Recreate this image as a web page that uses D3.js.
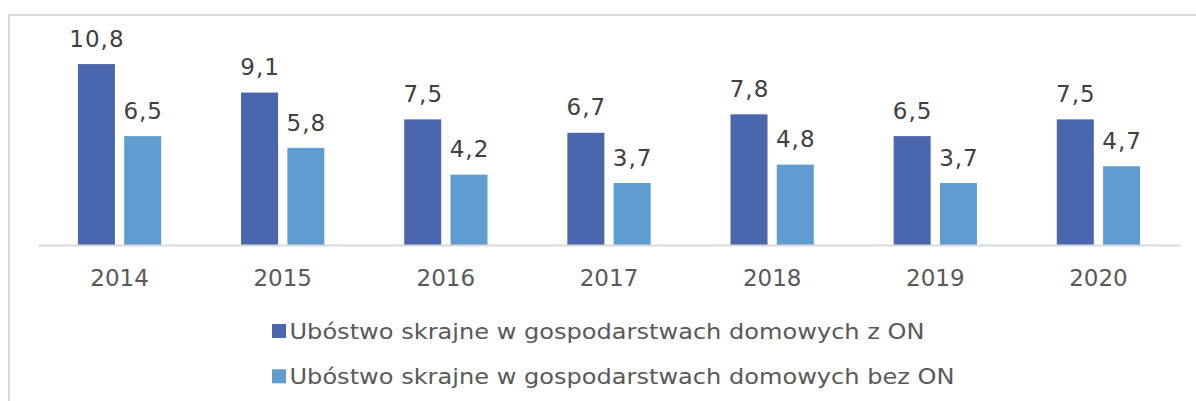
<!DOCTYPE html>
<html><head><meta charset="utf-8">
<script src="https://cdn.jsdelivr.net/npm/d3@7"></script>
<style>html,body{margin:0;padding:0;background:#fff;}svg{display:block;}</style>
</head><body>
<svg id="c" width="1196" height="401"></svg>
<script>
const years = ["2014","2015","2016","2017","2018","2019","2020"];
const seriesNames = ["Ubóstwo skrajne w gospodarstwach domowych z ON","Ubóstwo skrajne w gospodarstwach domowych bez ON"];
const withON = [10.8, 9.1, 7.5, 6.7, 7.8, 6.5, 7.5];
const withoutON = [6.5, 5.8, 4.2, 3.7, 4.8, 3.7, 4.7];
const colors = ["#4a66ac", "#5f9dd1"];

const svg = d3.select("#c");
const font = "'DejaVu Sans', Verdana, sans-serif";

// frame
svg.append("path").attr("d","M9,401 L9,15 L1196,15").attr("fill","none").attr("stroke","#d9d9d9").attr("stroke-width",2);

const x0 = d3.scaleBand().domain(years).range([38,1180]).padding(0);
const x1 = d3.scaleBand().domain([0,1]).range([-41.65,41.65]).paddingInner(0.2).paddingOuter(0);
const y = d3.scaleLinear().domain([0,12]).range([245,44]);

const data = years.map((yr,i)=>({yr, vals:[withON[i], withoutON[i]]}));
const g = svg.append("g");
const groups = g.selectAll("g.cat").data(data).join("g")
  .attr("transform", d=>`translate(${x0(d.yr)+x0.bandwidth()/2},0)`);
groups.selectAll("rect").data(d=>d.vals.map((v,s)=>({v,s}))).join("rect")
  .attr("x", d=>x1(d.s)).attr("width", x1.bandwidth())
  .attr("y", d=>y(d.v)).attr("height", d=>y(0)-y(d.v))
  .attr("fill", d=>colors[d.s]);
groups.selectAll("text").data(d=>d.vals.map((v,s)=>({v,s}))).join("text")
  .attr("x", d=>x1(d.s)+x1.bandwidth()/2+0.5).attr("y", d=>y(d.v)-17.3)
  .attr("text-anchor","middle").attr("font-family",font).attr("font-size",23)
  .attr("letter-spacing",1)
  .attr("fill","#404040").text(d=>d.v.toFixed(1).replace(".",","));

// axis
const ax = svg.append("g").attr("transform","translate(0,245)")
  .call(d3.axisBottom(x0).tickSize(0).tickPadding(0));
ax.select(".domain").attr("stroke","#d9d9d9").attr("stroke-width",2);
ax.selectAll("text").attr("font-family",font).attr("font-size",23).attr("fill","#595959")
  .attr("dy",null).attr("y",41);

// legend
const leg = svg.append("g");
const ly = [324, 369.3];
const lw = [635, 665];
seriesNames.forEach((n,i)=>{
  leg.append("rect").attr("x",272).attr("y",ly[i]).attr("width",14).attr("height",14).attr("fill",colors[i]);
  leg.append("text").attr("x",289.5).attr("y",ly[i]+15).attr("font-family",font).attr("font-size",22)
    .attr("textLength",lw[i]).attr("lengthAdjust","spacingAndGlyphs")
    .attr("fill","#595959").text(n);
});
</script>
</body></html>
